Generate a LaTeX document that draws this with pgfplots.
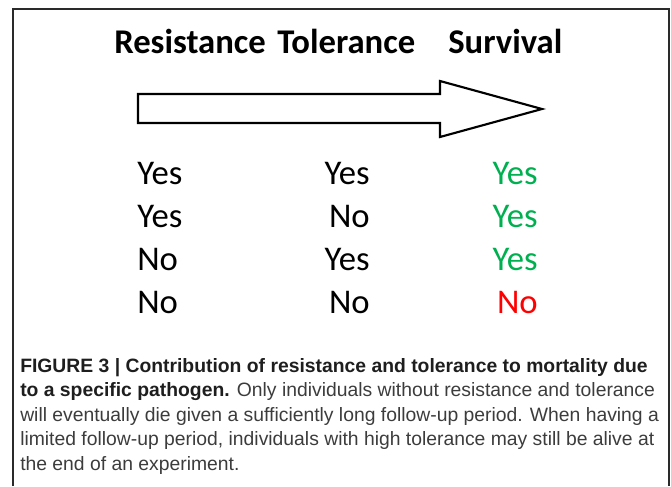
\documentclass[border=0pt]{standalone}
\usepackage{fontspec}
\setmainfont{Carlito}
\newfontfamily\capfont{Liberation Sans}
\usepackage{pgfplots}
\usepackage{pgfplotstable}
\pgfplotsset{compat=1.18}
\definecolor{okgreen}{HTML}{00B050}
\definecolor{nored}{HTML}{FF0000}
\definecolor{capgray}{HTML}{3C3C3C}
\definecolor{capdark}{HTML}{1E1E1E}
\definecolor{framegray}{HTML}{2A2A2A}

\pgfplotstableread{
x y label
137 184 Yes
137 227 Yes
137 270 No
137 313 No
}\colA
\pgfplotstableread{
x y label
370 184 Yes
370 227 No
370 270 Yes
370 313 No
}\colB
\pgfplotstableread{
x y label
538 184 Yes
538 227 Yes
538 270 Yes
}\colCyes
\pgfplotstableread{
x y label
538 313 No
}\colCno

\begin{document}
\begin{tikzpicture}
\begin{axis}[
  scale only axis, width=503.25pt, height=364.5pt,
  xmin=0, xmax=671, ymin=0, ymax=486, y dir=reverse,
  hide axis, clip=false,
  point meta=explicit symbolic,
  cell/.style={draw=none, mark=none, nodes near coords,
    nodes near coords align={anchor=#1},
    every node near coord/.append style={anchor=#1, inner sep=0pt, font=\fontsize{26}{30}\selectfont}},
]
% frame
\addplot[framegray, line width=1.1pt, mark=none] coordinates {(13,486) (13,9) (669,9) (669,486)};
% arrow
\addplot[black, line width=1.6pt, mark=none, line join=miter, fill=white] coordinates {
(138,94) (440,94) (440,81) (542,109) (440,137) (440,123) (138,123)} -- cycle;
% cells
\addplot[cell=base west, every node near coord/.append style={text=black}] table[x=x, y=y, meta=label] {\colA};
\addplot[cell=base east, every node near coord/.append style={text=black}] table[x=x, y=y, meta=label] {\colB};
\addplot[cell=base east, every node near coord/.append style={text=okgreen}] table[x=x, y=y, meta=label] {\colCyes};
\addplot[cell=base east, every node near coord/.append style={text=nored}] table[x=x, y=y, meta=label] {\colCno};
% heading
\begin{scope}[every node/.style={anchor=base west, inner sep=0pt, font=\fontsize{26}{30}\selectfont\bfseries}]
\node at (axis cs:114,53) {Resistance};
\node at (axis cs:277,53) {Tolerance};
\node at (axis cs:448,53) {Survival};
\end{scope}
% caption
\begin{scope}[every node/.style={anchor=base west, inner sep=0pt, font=\capfont\fontsize{14.5}{17}\selectfont, text=capgray}]
\node at (axis cs:20,372) {\textcolor{capdark}{\bfseries FIGURE 3 | Contribution of resistance and tolerance to mortality due}};
\node at (axis cs:20,396.5) {\textcolor{capdark}{\bfseries to a specific pathogen.} Only individuals without resistance and tolerance};
\node at (axis cs:20,421) {will eventually die given a sufficiently long follow-up period. When having a};
\node at (axis cs:20,445.5) {limited follow-up period, individuals with high tolerance may still be alive at};
\node at (axis cs:20,470) {the end of an experiment.};
\end{scope}
\end{axis}
\pgfresetboundingbox
\path (current axis.south west) rectangle (current axis.north east);
\end{tikzpicture}
\end{document}
